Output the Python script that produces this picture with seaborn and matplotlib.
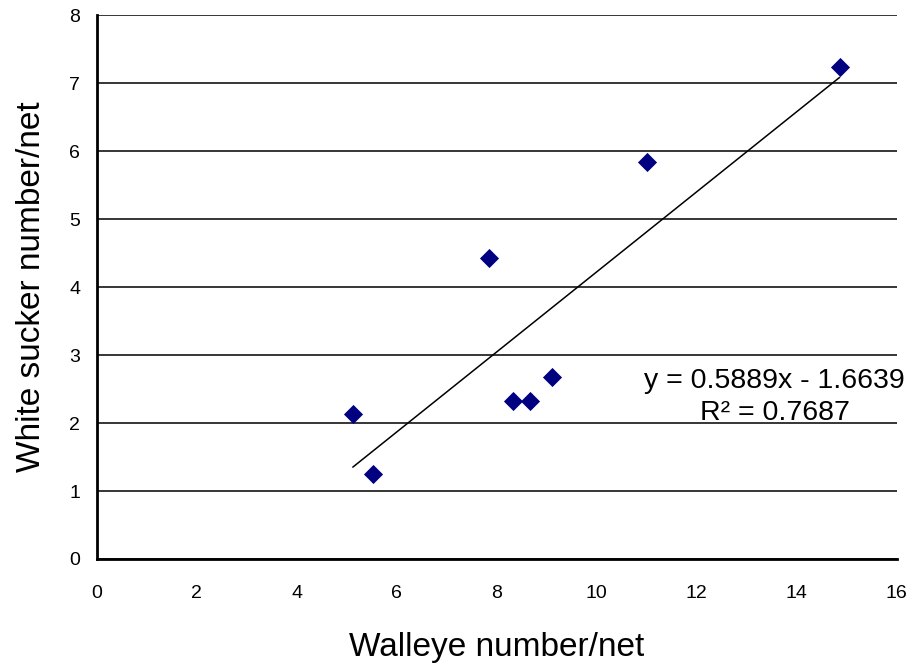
import numpy as np
import pandas as pd
import seaborn as sns
import matplotlib.pyplot as plt

# Walleye vs white sucker catch per net
walleye = [5.12, 5.52, 7.84, 8.32, 8.66, 9.10, 11.00, 14.86]
white_sucker = [2.13, 1.25, 4.43, 2.32, 2.32, 2.68, 5.84, 7.24]

# Excel linear trendline
slope = 0.5889
intercept = -1.6639
r_squared = 0.7687

x_ticks = [0, 2, 4, 6, 8, 10, 12, 14, 16]
y_ticks = [0, 1, 2, 3, 4, 5, 6, 7, 8]

df = pd.DataFrame({'walleye': walleye, 'white_sucker': white_sucker})

sns.set_style('white')
plt.rcParams['font.family'] = ['Liberation Sans', 'DejaVu Sans']
plt.rcParams['text.color'] = 'black'
plt.rcParams['axes.labelcolor'] = 'black'

fig = plt.figure(figsize=(9.14, 6.66), dpi=100)
ax = fig.add_axes([0.106, 0.1607, 0.875, 0.8163])

# horizontal gridlines
for yv in y_ticks:
    ax.axhline(yv, color='black', linewidth=1.1, zorder=1)

# trendline over the data range
x_line = np.array([min(walleye), max(walleye)])
ax.plot(x_line, slope * x_line + intercept, color='black', linewidth=1.1, zorder=2)

sns.scatterplot(data=df, x='walleye', y='white_sucker', marker='D', s=95,
                color='#000080', edgecolor='#000080', linewidth=0, ax=ax, zorder=3)

ax.text(13.56, 2.38, f'y = {slope}x - {abs(intercept)}\nR² = {r_squared}',
        ha='center', va='center', fontsize=20.5, linespacing=1.3, color='black')

ax.set_xlim(0, 16)
ax.set_ylim(0, 8)
ax.set_xticks(x_ticks)
ax.set_yticks(y_ticks)
ax.tick_params(axis='both', direction='out', length=5, width=1, colors='black',
               labelsize=14)
ax.tick_params(axis='y', pad=7)
ax.tick_params(axis='x', pad=14)

for side in ['top', 'right']:
    ax.spines[side].set_visible(False)
for side in ['left', 'bottom']:
    ax.spines[side].set_color('black')
    ax.spines[side].set_linewidth(2)

ax.set_xlabel('Walleye number/net', fontsize=24, labelpad=21)
ax.set_ylabel('White sucker number/net', fontsize=24, labelpad=16)

fig.savefig('out.png', dpi=100)
